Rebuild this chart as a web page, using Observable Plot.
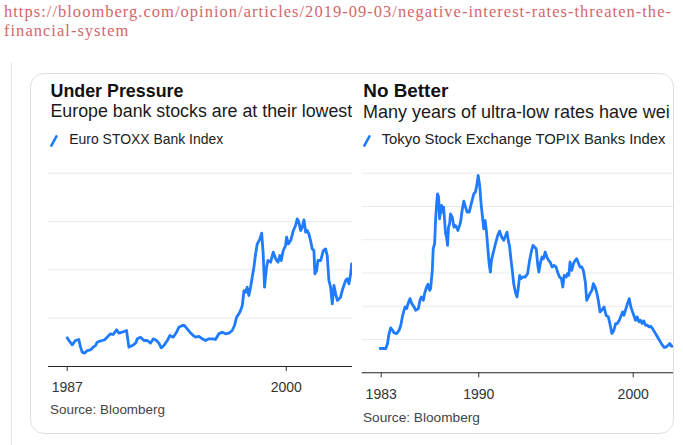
<!DOCTYPE html>
<html>
<head>
<meta charset="utf-8">
<script src="https://cdn.jsdelivr.net/npm/d3@7"></script>
<script src="https://cdn.jsdelivr.net/npm/@observablehq/plot@0.6"></script>
<style>
  html, body { margin: 0; padding: 0; background: #fff; }
  body { width: 683px; height: 445px; position: relative; overflow: hidden; font-family: "Liberation Sans", Arial, Helvetica, sans-serif; }
  #url { position: absolute; left: 4px; top: 3px; font-family: "Liberation Serif", "DejaVu Serif", serif; font-size: 16.5px; line-height: 18.5px; color: #d4666b; white-space: nowrap; }
  #quote { position: absolute; left: 11px; top: 62px; width: 1px; height: 383px; background: #e4e4e4; }
  #card { position: absolute; left: 30px; top: 73px; width: 642px; height: 359px; border: 1px solid #dde1e6; border-radius: 14px; overflow: hidden; background: #fff; }
  .panel { position: absolute; top: 0; height: 359px; overflow: hidden; }
  .t { position: absolute; white-space: nowrap; line-height: 1; }
  .title { font-size: 18px; font-weight: bold; color: #111; }
  .sub { font-size: 17.5px; color: #1a1a1a; }
  .leg { font-size: 14px; color: #222; }
  .src { font-size: 13px; color: #444; }
  .sw { position: absolute; }
  .chart { position: absolute; left: 0; top: 86px; }
</style>
</head>
<body>
<div id="url"><span id="l1">https://bloomberg.com/opinion/articles/2019-09-03/negative-interest-rates-threaten-the-</span><br><span id="l2">financial-system</span></div>
<div id="quote"></div>
<div id="card">
  <div class="panel" id="p1" style="left:0; width:321px;">
    <div class="t title" data-w="133" style="left:19.5px; top:9.1px;">Under Pressure</div>
    <div class="t sub" data-w="302" style="left:19.5px; top:29.5px;">Europe bank stocks are at their lowest</div>
    <svg class="sw" style="left:18.5px; top:61px;" width="8" height="12"><line x1="1.4" y1="10.6" x2="6.4" y2="1.4" stroke="#1f7bff" stroke-width="2.6" stroke-linecap="round"/></svg>
    <div class="t leg" data-w="154" style="left:38.3px; top:59.2px;">Euro STOXX Bank Index</div>
    <div class="chart" id="c1"></div>
    <div class="t src" data-w="115" style="left:19px; top:329.3px;">Source: Bloomberg</div>
  </div>
  <div class="panel" id="p2" style="left:321px; width:321px;">
    <div class="t title" data-w="85" style="left:11.3px; top:9.1px;">No Better</div>
    <div class="t sub" data-w="307" style="left:11px; top:29.5px;">Many years of ultra-low rates have wei</div>
    <svg class="sw" style="left:10.5px; top:61px;" width="8" height="12"><line x1="1.4" y1="10.6" x2="6.4" y2="1.4" stroke="#1f7bff" stroke-width="2.6" stroke-linecap="round"/></svg>
    <div class="t leg" data-w="284" style="left:29.7px; top:59.2px;">Tokyo Stock Exchange TOPIX Banks Index</div>
    <div class="chart" id="c2"></div>
    <div class="t src" data-w="117" style="left:11px; top:337.5px;">Source: Bloomberg</div>
  </div>
</div>
<script>
// ---- Euro STOXX Bank Index (relative units) ----
const euroYear = [1987.00,1987.10,1987.30,1987.49,1987.69,1987.79,1987.89,1988.03,1988.19,1988.39,1988.54,1988.68,1988.78,1988.94,1989.08,1989.22,1989.37,1989.57,1989.73,1989.93,1990.07,1990.26,1990.52,1990.66,1990.86,1991.06,1991.16,1991.35,1991.55,1991.75,1991.95,1992.10,1992.30,1992.44,1992.58,1992.74,1992.94,1993.09,1993.29,1993.49,1993.63,1993.83,1993.96,1994.12,1994.28,1994.48,1994.62,1994.82,1995.01,1995.21,1995.41,1995.61,1995.80,1996.00,1996.20,1996.40,1996.60,1996.79,1996.93,1997.05,1997.19,1997.29,1997.39,1997.49,1997.59,1997.68,1997.78,1997.88,1997.98,1998.08,1998.18,1998.28,1998.44,1998.54,1998.63,1998.71,1998.83,1998.91,1999.07,1999.23,1999.37,1999.51,1999.62,1999.70,1999.82,1999.96,2000.02,2000.12,2000.26,2000.42,2000.55,2000.65,2000.75,2000.85,2000.95,2001.05,2001.15,2001.25,2001.34,2001.44,2001.54,2001.64,2001.70,2001.80,2001.88,2002.04,2002.20,2002.33,2002.43,2002.53,2002.63,2002.73,2002.83,2002.93,2003.03,2003.22,2003.32,2003.42,2003.52,2003.62,2003.72,2003.82,2003.88];
const euroValue = [59.3,53.8,44.8,53.8,55.9,40.0,29.7,27.6,33.1,34.5,40.0,43.4,50.3,52.4,53.8,55.2,60.7,67.6,66.2,75.9,69.0,71.0,74.5,40.0,43.4,48.3,57.2,60.7,53.8,53.8,48.3,57.2,53.8,48.3,38.6,43.4,53.8,64.1,60.7,71.0,81.4,84.8,84.8,77.9,71.0,64.1,60.7,62.1,57.2,53.8,57.2,57.2,55.9,67.6,71.0,67.6,69.0,74.5,84.8,102.1,109.0,115.9,126.2,157.2,153.8,164.1,146.9,164.1,184.8,205.5,233.1,253.8,264.1,275.9,233.1,164.1,205.5,219.3,215.9,236.6,222.8,215.9,229.7,219.3,240.0,250.3,267.6,253.8,260.7,281.4,291.7,305.5,298.6,281.4,288.3,303.4,277.9,281.4,274.5,260.7,243.4,240.0,191.7,198.6,219.3,219.3,240.0,243.4,229.7,177.9,164.1,129.7,167.6,150.3,136.6,143.4,157.2,167.6,177.9,181.4,171.0,191.7,212.4];
const euroGrid = [100, 200, 300, 400];
const euroTicks = [1987, 2000];
const euroTickLabels = ["1987", "2000"];

// ---- Tokyo Stock Exchange TOPIX Banks Index (relative units) ----
const topixYear = [1983.61,1983.98,1984.09,1984.19,1984.30,1984.41,1984.52,1984.69,1984.84,1984.95,1985.05,1985.16,1985.23,1985.33,1985.42,1985.55,1985.66,1985.81,1985.91,1986.09,1986.19,1986.28,1986.41,1986.49,1986.62,1986.71,1986.82,1986.88,1986.99,1987.05,1987.14,1987.20,1987.27,1987.33,1987.40,1987.46,1987.53,1987.59,1987.66,1987.72,1987.78,1987.85,1987.91,1987.98,1988.04,1988.11,1988.17,1988.28,1988.39,1988.49,1988.65,1988.82,1988.92,1989.03,1989.14,1989.25,1989.38,1989.51,1989.68,1989.78,1989.89,1989.96,1990.06,1990.15,1990.24,1990.32,1990.41,1990.49,1990.58,1990.67,1990.75,1990.82,1990.92,1991.08,1991.23,1991.35,1991.48,1991.61,1991.74,1991.83,1991.91,1992.00,1992.09,1992.17,1992.26,1992.37,1992.47,1992.54,1992.65,1992.73,1992.86,1993.01,1993.16,1993.29,1993.42,1993.51,1993.61,1993.72,1993.81,1993.89,1993.98,1994.09,1994.19,1994.30,1994.41,1994.52,1994.62,1994.75,1994.88,1995.01,1995.10,1995.23,1995.35,1995.44,1995.53,1995.66,1995.74,1995.83,1995.91,1996.02,1996.13,1996.24,1996.34,1996.47,1996.56,1996.67,1996.77,1996.90,1996.99,1997.10,1997.20,1997.33,1997.42,1997.53,1997.63,1997.74,1997.85,1997.96,1998.11,1998.24,1998.39,1998.49,1998.62,1998.75,1998.86,1998.97,1999.10,1999.18,1999.31,1999.40,1999.53,1999.63,1999.74,1999.85,1999.96,2000.04,2000.15,2000.26,2000.37,2000.47,2000.58,2000.69,2000.80,2000.92,2001.03,2001.14,2001.25,2001.38,2001.51,2001.63,2001.76,2001.89,2002.02,2002.15,2002.26,2002.37,2002.47,2002.62];
const topixValue = [73,73,88,118,135,128,120,118,128,143,168,188,198,193,208,223,208,198,188,193,218,228,218,238,258,266,248,253,308,373,388,458,508,538,528,463,488,503,483,498,463,418,408,383,438,448,478,468,438,443,428,453,488,516,498,483,483,508,538,543,568,593,563,508,468,433,458,428,378,328,303,338,358,388,413,426,408,398,413,423,398,378,338,308,268,243,228,248,293,283,288,288,298,338,368,383,378,373,328,303,328,348,343,363,348,338,333,318,323,318,303,288,283,258,293,288,298,293,333,308,328,338,343,328,318,318,308,273,218,228,238,248,268,258,243,218,183,188,198,173,168,148,118,128,148,148,158,168,183,173,193,208,223,198,183,173,158,168,153,158,148,156,143,143,138,140,133,123,113,103,93,83,76,78,83,88,80,80];
const topixGrid = [100, 200, 300, 400, 500, 600];
const topixTicks = [1983.68, 1990, 2000];
const topixTickLabels = ["1983", "1990", "2000"];

const euro = euroYear.map((y, i) => ({year: y, value: euroValue[i]}));
const topix = topixYear.map((y, i) => ({year: y, value: topixValue[i]}));

const BLUE = "#1f7bff";
const style = {fontFamily: '"Liberation Sans", Arial, sans-serif', fontSize: "14px", color: "#333", background: "transparent", overflow: "visible"};

const c1 = Plot.plot({
  width: 321, height: 240,
  marginLeft: 17, marginRight: 0, marginTop: 12.7, marginBottom: 34,
  x: {domain: [1985.89, 2003.93]},
  y: {domain: [0, 400], axis: null},
  style,
  marks: [
    Plot.ruleY(euroGrid, {stroke: "#ebebeb", strokeWidth: 1}),
    Plot.line(euro, {x: "year", y: "value", stroke: BLUE, strokeWidth: 2.8, strokeLinejoin: "round", strokeLinecap: "round", clip: true}),
    Plot.ruleY([0], {stroke: "#222", strokeWidth: 1.1}),
    Plot.axisX({ticks: euroTicks, tickFormat: d => euroTickLabels[euroTicks.indexOf(d)], tickSize: 5, tickPadding: 11, fontSize: 14, color: "#333", label: null})
  ]
});
document.getElementById("c1").append(c1);

const c2 = Plot.plot({
  width: 321, height: 245,
  marginLeft: 9.7, marginRight: 0, marginTop: 12.7, marginBottom: 32.7,
  x: {domain: [1982.45, 2002.61]},
  y: {domain: [0, 600], axis: null},
  style,
  marks: [
    Plot.ruleY(topixGrid, {stroke: "#ebebeb", strokeWidth: 1}),
    Plot.line(topix, {x: "year", y: "value", stroke: BLUE, strokeWidth: 2.8, strokeLinejoin: "round", strokeLinecap: "round", clip: true}),
    Plot.ruleY([0], {stroke: "#222", strokeWidth: 1.1}),
    Plot.axisX({ticks: topixTicks, tickFormat: d => topixTickLabels[topixTicks.indexOf(d)], tickSize: 5, tickPadding: 11, fontSize: 14, color: "#333", label: null})
  ]
});
document.getElementById("c2").append(c2);

// fit each text to the width it has in the reference, keeping its baseline
document.querySelectorAll("[data-w]").forEach(el => {
  const w = el.getBoundingClientRect().width;
  const f0 = parseFloat(getComputedStyle(el).fontSize);
  const f1 = f0 * (+el.dataset.w) / w;
  const top0 = parseFloat(el.style.top);
  el.style.fontSize = f1 + "px";
  el.style.top = (top0 + 0.8465 * (f0 - f1)) + "px";
});

// fit the URL's first line to the width it has in the reference
const l1 = document.getElementById("l1");
const w = l1.getBoundingClientRect().width;
const ls = (668 - w) / l1.textContent.length;
document.getElementById("url").style.letterSpacing = ls + "px";
</script>
</body>
</html>
